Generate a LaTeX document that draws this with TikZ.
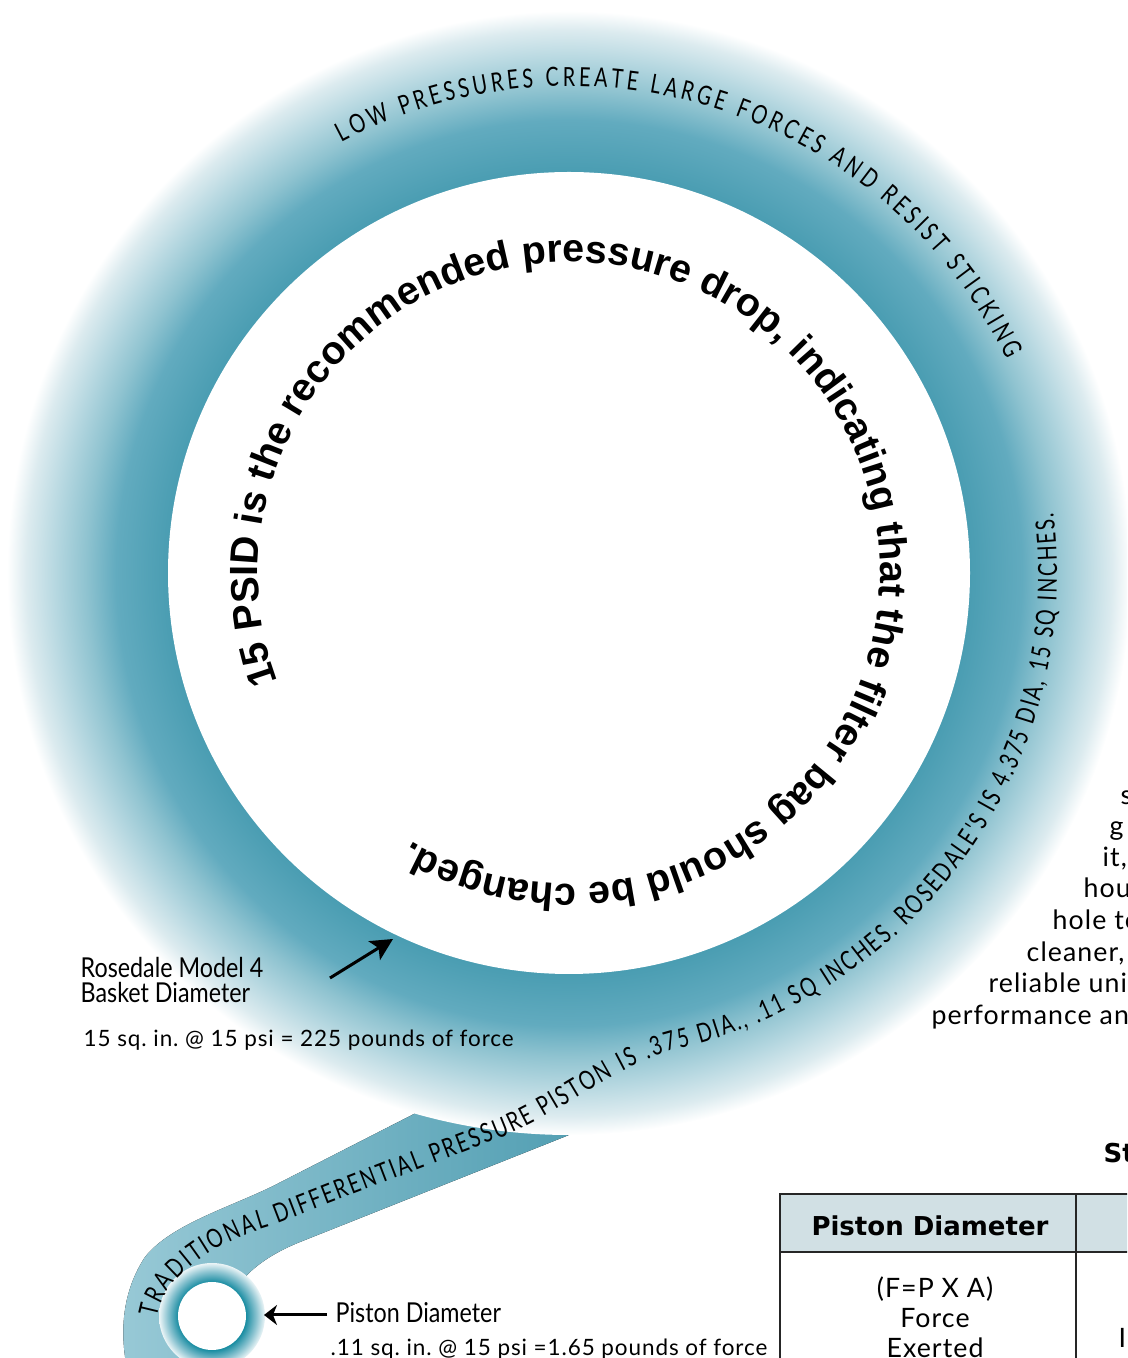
\documentclass[tikz,border=0pt]{standalone}
\usepackage{fontspec}
\setmainfont{Lato}
\newfontfamily\psidface{Liberation Sans}
\newfontfamily\ringcapsface{Lato}[FakeStretch=0.75]
\newfontfamily\labelface{Lato}[FakeStretch=0.85]
\newfontfamily\wideface{Lato}[LetterSpace=4]
\newfontfamily\headface{DejaVu Sans}
\usetikzlibrary{arrows.meta, positioning, decorations.text}
\newcommand{\psidfont}{\psidface\bfseries\fontsize{11.2}{13}\selectfont}
\newcommand{\ringcaps}{\ringcapsface\fontsize{7.5}{9}\selectfont}
\newcommand{\labelfont}{\labelface\fontsize{7.8}{7.1}\selectfont}
\newcommand{\forcefont}{\wideface\frenchspacing\fontsize{6.4}{8}\selectfont}
\newcommand{\parafont}{\wideface\frenchspacing\fontsize{7.6}{8.4}\selectfont}
\newcommand{\tableheadfont}{\headface\bfseries\fontsize{7.4}{9}\selectfont}
\definecolor{ringteal}{RGB}{74,157,178}
\definecolor{ringfadea}{RGB}{98,171,191}
\definecolor{ringfadeb}{RGB}{143,195,208}
\definecolor{ringfadec}{RGB}{181,215,224}
\definecolor{ringfaded}{RGB}{220,235,239}
\definecolor{ribbonlight}{RGB}{152,201,214}
\definecolor{ribbondark}{RGB}{61,146,168}
\definecolor{pistonteal}{RGB}{19,138,159}
\definecolor{pistonmid}{RGB}{62,158,177}
\definecolor{pistonpale}{RGB}{140,196,209}
\definecolor{pistonedge}{RGB}{236,245,247}
\definecolor{headgray}{RGB}{209,224,228}
\pgfdeclareradialshading{ringglow}{\pgfpointorigin}{color(0bp)=(ringteal); color(17.84bp)=(ringteal); color(20.15bp)=(ringfadea); color(21.49bp)=(ringfadeb); color(22.82bp)=(ringfadec); color(24.15bp)=(ringfaded); color(25bp)=(white); color(50bp)=(white)}
\pgfdeclareradialshading{pistonglow}{\pgfpointorigin}{color(0bp)=(pistonteal); color(15.8bp)=(pistonteal); color(17.6bp)=(pistonmid); color(21bp)=(pistonpale); color(25bp)=(pistonedge); color(50bp)=(pistonedge)}
\tikzstyle{arctext} = [decorate, decoration={text along path, text align={fit to path}}]
\tikzstyle{labeltext} = [inner sep=0pt, anchor=base west, font=\labelfont]
\tikzstyle{forcetext} = [inner sep=0pt, anchor=base west, font=\forcefont]
\tikzstyle{paratext} = [inner sep=0pt, anchor=base west, font=\parafont]
\tikzstyle{pointer} = [line width=0.3mm, -{Stealth[length=2.2mm, width=2.2mm, inset=0.5mm]}]
\tikzstyle{tableline} = [line width=0.18mm, draw=black!85]

\begin{document}
\begin{tikzpicture}[x=0.1mm, y=0.1mm]
	\useasboundingbox (0,0) rectangle (1127,1358);
	\clip (0,0) rectangle (1127,1358);
	\coordinate (basket) at (569,785);
	\coordinate (piston) at (212,42);
	\fill[left color=ribbonlight, right color=ribbondark] (215,-40) -- (135,-40) .. controls (118,10) and (118,60) .. (145,101) .. controls (172,135) and (235,152) .. (279,175) -- (412,243) .. controls (460,268) and (505,320) .. (521,393) -- (717,419) .. controls (700,330) and (620,243) .. (564,221) -- (300,116) .. controls (265,102) and (235,80) .. (228,50) -- cycle;
	\shade[shading=ringglow] (basket) circle (562);
	\fill[white] (basket) circle (401);
	\shade[shading=pistonglow] (piston) circle (53);
	\fill[white] (piston) circle (34);
	\path[arctext, decoration={text={|\psidfont|15 PSID is the recommended pressure drop, indicating that the filter bag should be changed.}}] ([shift={(200.5:311)}]basket) arc[start angle=200.5, end angle=-120.5, radius=311];
	\path[arctext, decoration={text={|\ringcaps|LOW PRESSURES CREATE LARGE FORCES AND RESIST STICKING}}] ([shift={(117.8:487)}]basket) arc[start angle=117.8, end angle=26, radius=487];
	\path[arctext, decoration={text={|\ringcaps|TRADITIONAL DIFFERENTIAL PRESSURE PISTON IS .375 DIA., .11 SQ INCHES. ROSEDALE'S IS 4.375 DIA, 15 SQ INCHES.}}] (157,40) .. controls (162,80) and (215,115) .. (265,130) -- (500,220) .. controls (560,243) and (620,296) .. ([shift={(-77:488)}]basket) arc[start angle=-77, end angle=7, radius=488];

	\node[labeltext] (basketname) at (80,380) {Rosedale Model 4};
	\node[labeltext] (baskettype) at ([yshift=-2.5mm]basketname.base west) {Basket Diameter};
	\node[forcetext] (basketforce) at (83,311) {15 sq. in. @ 15 psi = 225 pounds of force};
	\coordinate (baskettail) at (330,380);
	\coordinate (baskettip) at (393,419);
	\draw[pointer] (baskettail) -- (baskettip);
	\node[labeltext] (pistonlabel) at (335,35) {Piston Diameter};
	\node[forcetext] (pistonforce) at (330,3) {.11 sq. in. @ 15 psi =1.65 pounds of force};
	\coordinate (pistontip) at (264,43);
	\draw[pointer, -{Stealth[length=1.3mm, width=2mm, inset=0.4mm]}, shorten <=0.8mm] (pistonlabel.west |- pistontip) -- (pistontip);

	\node[paratext] (para1) at (1120,553) {s};
	\node[paratext] (para2) at (1109,522) {g};
	\node[paratext] (para3) at (1102,491) {it,};
	\node[paratext] (para4) at (1083,460) {hou};
	\node[paratext] (para5) at (1052,428) {hole to};
	\node[paratext] (para6) at (1026,396) {cleaner,};
	\node[paratext] (para7) at (988,365) {reliable unit};
	\node[paratext] (para8) at (931,333) {performance an};

	\node[inner sep=0pt, anchor=base west, font=\tableheadfont] (tabletitle) at (1103,195) {St};
	\fill[headgray] (780,164) rectangle (1140,106);
	\draw[tableline] (1140,164) -- (780,164) -- (780,-10);
	\draw[tableline] (780,106) -- (1140,106);
	\draw[tableline] (1076,164) -- (1076,-10);
	\node[inner sep=0pt, anchor=base, font=\tableheadfont] (headcell) at (930,122) {Piston Diameter};
	\node[inner sep=0pt, anchor=base, align=center, font=\parafont] (forcecell) at (935,1) {(F=P X A)\\Force\\Exerted};
	\node[paratext] (sidecell) at (1118,11) {I};
\end{tikzpicture}
\end{document}
